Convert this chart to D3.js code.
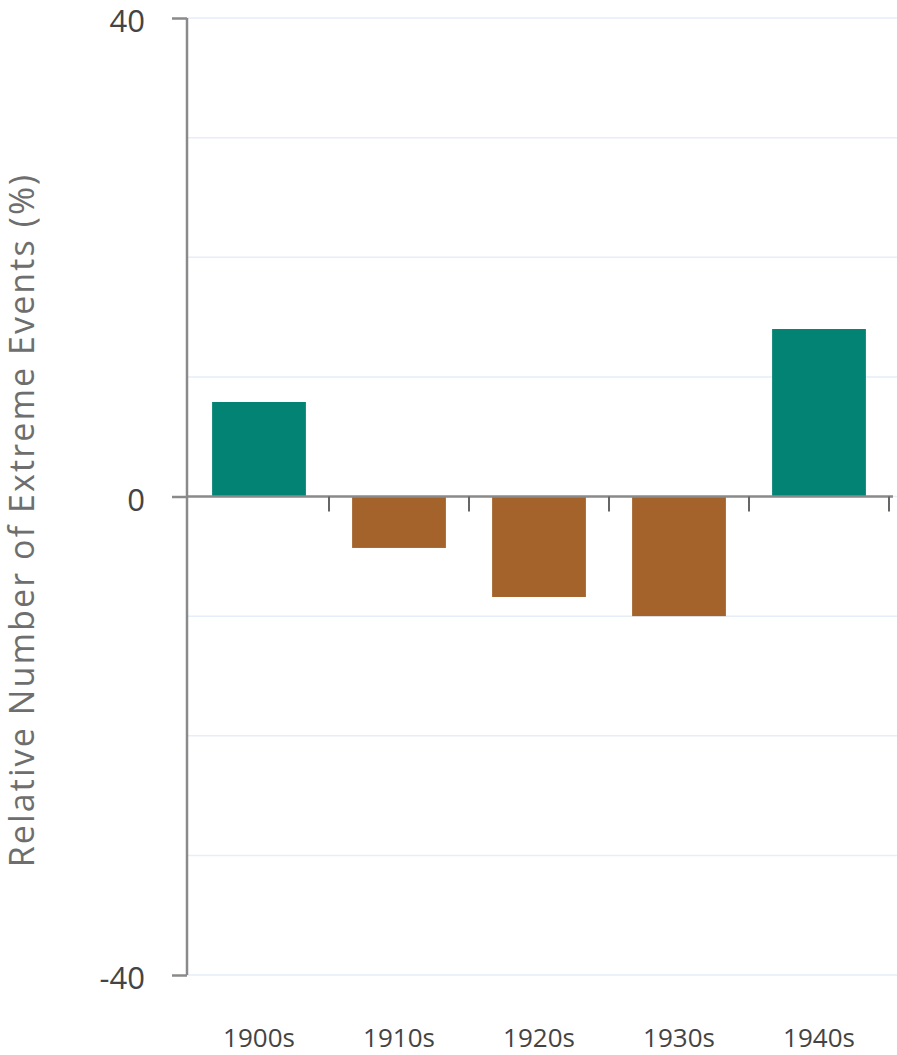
<!DOCTYPE html>
<html>
<head>
<meta charset="utf-8">
<script src="https://cdn.jsdelivr.net/npm/d3@7"></script>
<style>
  html, body { margin: 0; padding: 0; background: #fff; }
  svg { display: block; font-family: "Open Sans", sans-serif; }
</style>
</head>
<body>
<svg id="chart" width="897" height="1055"></svg>
<script>
const categories = ["1900s", "1910s", "1920s", "1930s", "1940s"];
const values = [7.9, -4.3, -8.4, -10.0, 14.0];
const yTickValues = [-40, 0, 40];
const gridValues = [-40, -30, -20, -10, 0, 10, 20, 30, 40];
const yTitle = "Relative Number of Extreme Events (%)";

const svg = d3.select("#chart");
const x = d3.scaleBand().domain(categories).range([189, 889]).paddingInner(0.33).paddingOuter(0.165);
const y = d3.scaleLinear().domain([-40, 40]).range([975, 18]);

// gridlines
svg.append("g").selectAll("line").data(gridValues).join("line")
  .attr("x1", 187).attr("x2", 897)
  .attr("y1", d => y(d)).attr("y2", d => y(d))
  .attr("stroke", "#e6eef7").attr("stroke-width", 1.5);

// bars
svg.append("g").selectAll("rect").data(values).join("rect")
  .attr("x", (d, i) => x(categories[i]))
  .attr("width", x.bandwidth())
  .attr("y", d => y(Math.max(0, d)))
  .attr("height", d => Math.abs(y(d) - y(0)))
  .attr("fill", d => d >= 0 ? "#038373" : "#a3632b");

// y axis
const yAxis = svg.append("g").attr("transform", "translate(187,0)")
  .call(d3.axisLeft(y).tickValues(yTickValues).tickSize(15).tickPadding(27).tickFormat(d => String(d)));
yAxis.select(".domain").attr("stroke", "#8a8a8a").attr("stroke-width", 2.5).attr("d", `M0,${y(40)}V${y(-40)}`);
yAxis.selectAll(".tick line").attr("stroke", "#8a8a8a").attr("stroke-width", 2.5);
yAxis.selectAll(".tick text").attr("font-size", 31).attr("fill", "#444").attr("font-family", "Open Sans").attr("dy", "0.44em");

// x axis at zero
const boundaries = categories.map(c => x(c) + x.bandwidth() + x.step() * x.paddingOuter());
const xAxisG = svg.append("g");
xAxisG.append("line").attr("x1", 187).attr("x2", 893).attr("y1", y(0)).attr("y2", y(0))
  .attr("stroke", "#8a8a8a").attr("stroke-width", 2.5);
xAxisG.selectAll("line.tk").data(boundaries).join("line").attr("class", "tk")
  .attr("x1", d => d).attr("x2", d => d).attr("y1", y(0)).attr("y2", y(0) + 15)
  .attr("stroke", "#666").attr("stroke-width", 2);

// x labels
svg.append("g").selectAll("text").data(categories).join("text")
  .attr("x", d => x(d) + x.bandwidth() / 2)
  .attr("y", 1047)
  .attr("text-anchor", "middle")
  .attr("font-size", 26).attr("fill", "#444")
  .text(d => d);

// y title
svg.append("text")
  .attr("transform", `translate(34,520) rotate(-90)`)
  .attr("text-anchor", "middle")
  .attr("font-size", 34).attr("letter-spacing", 2.1).attr("fill", "#6e6e6e")
  .text(yTitle);
</script>
</body>
</html>
